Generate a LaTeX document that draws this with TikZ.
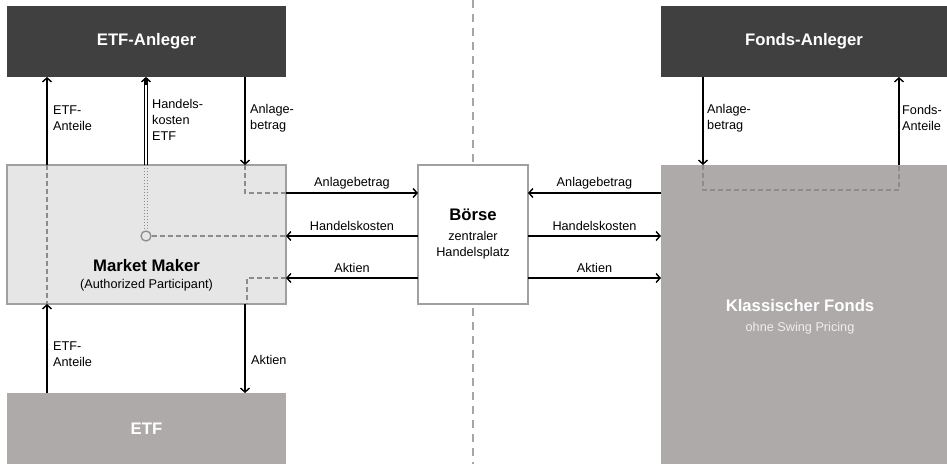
\documentclass[tikz,border=0pt]{standalone}
\usepackage{fontspec}
\setmainfont{Liberation Sans}
\usetikzlibrary{arrows.meta,calc}
\definecolor{darkbox}{HTML}{404040}
\definecolor{midbox}{HTML}{AEAAAA}
\definecolor{lightbox}{HTML}{E7E6E6}
\definecolor{dashgray}{HTML}{8C8C8C}
\definecolor{bordergray}{HTML}{A0A0A0}
\definecolor{centergray}{HTML}{A6A6A6}
\definecolor{paletext}{HTML}{EEEEEE}
\newcommand\lblfont{\fontsize{12.7}{16}\selectfont}
\newcommand\titlefont{\fontsize{16.7}{20}\selectfont\bfseries}
\tikzset{
  blockbox/.style={inner sep=0pt, outer sep=0pt, align=center},
  arr/.style={line width=1.4pt, -{Straight Barb[length=4pt,width=9pt,line width=1.4pt]}},
  dsh/.style={draw=dashgray, line width=1.3pt, dash pattern=on 5pt off 3pt},
  lbl/.style={inner sep=0pt, font=\lblfont, align=left},
  hlbl/.style={inner sep=0pt, font=\lblfont},
}
\begin{document}
\begin{tikzpicture}[x=1pt,y=1pt]
\useasboundingbox (0,0) rectangle (947,464);
% central dashed divider
\coordinate (ctop) at (473,464);
\coordinate (cbot) at (473,0);
\draw[centergray, line width=1.4pt, dash pattern=on 8pt off 6pt] (ctop) -- (cbot);

% boxes
\node[blockbox, fill=darkbox, minimum width=279pt, minimum height=71pt, text=white, font=\titlefont] (etfanl) at (146.5,422.5) {ETF-Anleger};
\node[blockbox, fill=lightbox, draw=bordergray, line width=1.4pt, minimum width=279pt, minimum height=139pt] (mm) at (146.5,229.5) {};
\node[blockbox, fill=midbox, minimum width=279pt, minimum height=71pt, text=white, font=\titlefont] (etf) at (146.5,35.5) {ETF};
\node[blockbox, fill=white, draw=bordergray, line width=1.4pt, minimum width=110pt, minimum height=139pt, font=\lblfont] (boerse) at (473,229.5) {{\titlefont Börse}\\[4pt]zentraler\\Handelsplatz};
\node[blockbox, fill=darkbox, minimum width=286pt, minimum height=71pt, text=white, font=\titlefont] (fondsanl) at (804,422.5) {Fonds-Anleger};
\node[blockbox, fill=midbox, minimum width=286pt, minimum height=299pt] (fonds) at (804,149.5) {};
\node[blockbox, font=\lblfont] (fondstext) at (800,147) {{\titlefont\color{white}Klassischer Fonds}\\[4pt]{\color{paletext}ohne Swing Pricing}};
\node[blockbox, font=\lblfont] (mmtext) at (146.5,188.5) {{\titlefont Market Maker}\\[1pt](Authorized Participant)};

% helper coordinates
\coordinate (xa) at (47,0);
\coordinate (xh) at (146,0);
\coordinate (hx1) at (144.4,0);
\coordinate (hx2) at (147.6,0);
\coordinate (xb) at (245,0);
\coordinate (xc) at (247,0);
\coordinate (xf1) at (703,0);
\coordinate (xf2) at (899,0);
\coordinate (ya) at (0,271);
\coordinate (yh) at (0,228);
\coordinate (yk) at (0,186);
\coordinate (yf) at (0,274);

% dashed internal routes
\draw[dsh] (mm.north -| xa) -- (mm.south -| xa);
\draw[dsh] (mm.north -| xb) -- (xb |- ya) -- (mm.east |- ya);
\node[circle, draw=dashgray, line width=1.3pt, fill=lightbox, minimum size=10pt, inner sep=0pt] (hub) at (146,228) {};
\draw[dsh] (hub.east) -- (mm.east |- yh);
\draw[dsh] (mm.east |- yk) -- (xc |- yk) -- (mm.south -| xc);
\draw[dashgray, line width=1pt, dotted] (mm.north -| hx1) -- (hub.north -| hx1);
\draw[dashgray, line width=1pt, dotted] (mm.north -| hx2) -- (hub.north -| hx2);
\draw[dsh] (fonds.north -| xf1) -- (xf1 |- yf) -- (xf2 |- yf) -- (fonds.north -| xf2);

% vertical arrows left
\draw[arr] (mm.north -| xa) -- (etfanl.south -| xa);
\draw[line width=1pt] (mm.north -| hx1) -- ([yshift=-1pt]etfanl.south -| hx1);
\draw[line width=1pt] (mm.north -| hx2) -- ([yshift=-1pt]etfanl.south -| hx2);
\draw[arr] ([yshift=-8pt]etfanl.south -| xh) -- (etfanl.south -| xh);
\draw[arr] (etfanl.south -| xb) -- (mm.north -| xb);
\draw[arr] (etf.north -| xa) -- (mm.south -| xa);
\draw[arr] (mm.south -| xb) -- (etf.north -| xb);

% horizontal arrows
\draw[arr] (mm.east |- ya) -- (boerse.west |- ya);
\draw[arr] (boerse.west |- yh) -- (mm.east |- yh);
\draw[arr] (boerse.west |- yk) -- (mm.east |- yk);
\draw[arr] (fonds.west |- ya) -- (boerse.east |- ya);
\draw[arr] (boerse.east |- yh) -- (fonds.west |- yh);
\draw[arr] (boerse.east |- yk) -- (fonds.west |- yk);

% vertical arrows right
\draw[arr] (fondsanl.south -| xf1) -- (fonds.north -| xf1);
\draw[arr] (fonds.north -| xf2) -- (fondsanl.south -| xf2);

% horizontal labels
\node[hlbl] (la1) at (352,281) {Anlagebetrag};
\node[hlbl] (la2) at (352,238) {Handelskosten};
\node[hlbl] (la3) at (352,196) {Aktien};
\node[hlbl] (ra1) at (594.5,281) {Anlagebetrag};
\node[hlbl] (ra2) at (594.5,238) {Handelskosten};
\node[hlbl] (ra3) at (594.5,196) {Aktien};

% vertical labels
\node[lbl, anchor=west] (v1) at (53,345.5) {ETF-\\Anteile};
\node[lbl, anchor=west] (v2) at (152,344) {Handels-\\kosten\\ETF};
\node[lbl, anchor=west] (v3) at (250,345.5) {Anlage-\\betrag};
\node[lbl, anchor=west] (v4) at (53,110) {ETF-\\Anteile};
\node[lbl, anchor=west] (v5) at (251,104) {Aktien};
\node[lbl, anchor=west] (v6) at (707,346) {Anlage-\\betrag};
\node[lbl, anchor=west] (v7) at (902,346) {Fonds-\\Anteile};
\end{tikzpicture}
\end{document}
